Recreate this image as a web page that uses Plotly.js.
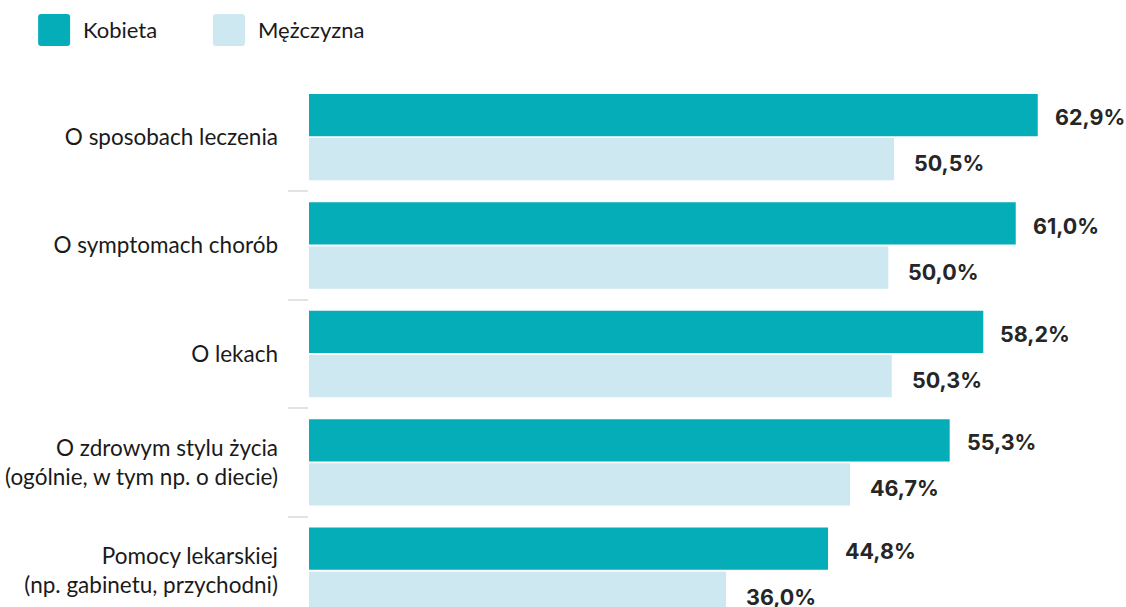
<!DOCTYPE html>
<html>
<head>
<meta charset="utf-8">
<script src="https://cdn.plot.ly/plotly-3.0.1.min.js"></script>
<style>
html,body{margin:0;padding:0;overflow:hidden;background:#fff;}
#chart{width:1126px;height:625px;}
</style>
</head>
<body>
<div id="chart"></div>
<script>
var categories = [
  'O sposobach leczenia',
  'O symptomach chorób',
  'O lekach',
  'O zdrowym stylu życia<br>(ogólnie, w tym np. o diecie)',
  'Pomocy lekarskiej<br>(np. gabinetu, przychodni)'
];
var seriesNames = ['Kobieta', 'Mężczyzna'];
var kobieta = [62.9, 61.0, 58.2, 55.3, 44.8];
var mezczyzna = [50.5, 50.0, 50.3, 46.7, 36.0];
var colors = ['#05adb8', '#cde8f0'];

function fmt(v){ return v.toFixed(1).replace('.', ',') + '%'; }

var traces = [kobieta, mezczyzna].map(function(vals, i){
  return {
    type: 'bar', orientation: 'h',
    name: seriesNames[i],
    x: vals, y: categories,
    marker: {color: colors[i]},
    hoverinfo: 'skip',
    showlegend: false
  };
});

var annotations = [];
[kobieta, mezczyzna].forEach(function(vals, i){
  vals.forEach(function(v, j){
    annotations.push({
      x: v, y: categories[j], xref: 'x', yref: 'y',
      text: fmt(v), showarrow: false,
      xanchor: 'left', yanchor: 'middle',
      xshift: i === 0 ? 15 : 18, yshift: i === 0 ? 20 : -26,
      font: {family: 'Inter, sans-serif', size: 21.5, color: '#262626', weight: 700}
    });
  });
});

// legend (manual, large rounded swatches)
var legendX = [-0.334, -0.1184];
var shapes = [];
seriesNames.forEach(function(n, i){
  shapes.push({
    type: 'path', xref: 'paper', yref: 'paper',
    xsizemode: 'pixel', ysizemode: 'pixel',
    xanchor: legendX[i], yanchor: 1.1294,
    path: 'M3,0 L29,0 Q32,0 32,-3 L32,-29 Q32,-32 29,-32 L3,-32 Q0,-32 0,-29 L0,-3 Q0,0 3,0 Z',
    fillcolor: colors[i], line: {width: 0}
  });
  annotations.push({
    xref: 'paper', yref: 'paper',
    x: legendX[i], y: 1.1294, xanchor: 'left', yanchor: 'middle',
    xshift: 43, yshift: -16,
    text: n, showarrow: false,
    font: {family: 'Lato, sans-serif', size: 22, color: '#1a1a1a'}
  });
});

var layout = {
  width: 1126, height: 625,
  margin: {l: 309, r: 6, t: 84, b: 0},
  paper_bgcolor: '#fff', plot_bgcolor: '#fff',
  barmode: 'group', bargap: 0.185, bargroupgap: 0.045,
  showlegend: false,
  xaxis: {range: [0, 70], visible: false, fixedrange: true},
  yaxis: {
    type: 'category', range: [4.5, -0.49],
    showgrid: false, zeroline: false, showline: false,
    ticks: 'outside', tickson: 'boundaries', ticklen: 20, tickwidth: 2, tickcolor: '#e3e3e3',
    ticklabelstandoff: 30,
    tickfont: {family: 'Lato, sans-serif', size: 22.5, color: '#1a1a1a'},
    fixedrange: true
  },
  annotations: annotations,
  shapes: shapes
};

Plotly.newPlot('chart', traces, layout, {displayModeBar: false, staticPlot: true});
</script>
</body>
</html>
